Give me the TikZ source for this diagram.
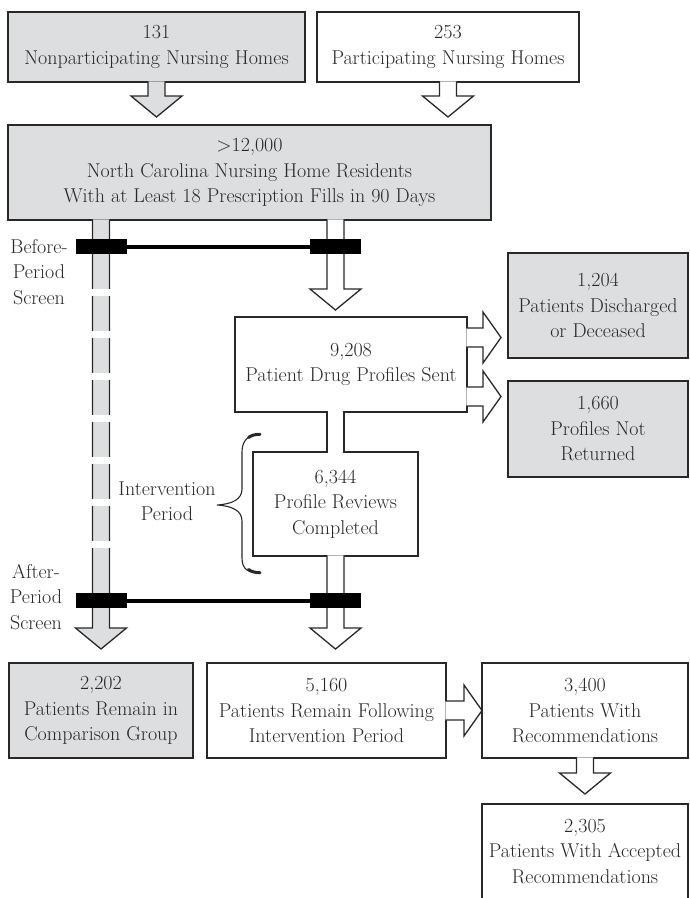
\documentclass[tikz,border=0pt]{standalone}
\usepackage{tikz}
\usetikzlibrary{positioning, calc}
\definecolor{boxgray}{RGB}{221,222,224}
\definecolor{inkgray}{RGB}{40,40,40}

% block arrows: #1 fill, #2 shaft start, #3 tip
\newcommand{\blockdown}[3]{%
  \draw[blk, fill=#1] let \p1=(#2), \p2=(#3) in
    (\x2-8.5pt,\y1+0.7pt) -- (\x2-8.5pt,\y2+21pt) -- (\x2-25.5pt,\y2+21pt) -- (\x2,\y2)
    -- (\x2+25.5pt,\y2+21pt) -- (\x2+8.5pt,\y2+21pt) -- (\x2+8.5pt,\y1+0.7pt);}
\newcommand{\blockright}[3]{%
  \draw[blk, fill=#1] let \p1=(#2), \p2=(#3) in
    (\x1-0.7pt,\y2+9.5pt) -- (\x2-18pt,\y2+9.5pt) -- (\x2-18pt,\y2+25.5pt) -- (\x2,\y2)
    -- (\x2-18pt,\y2-25.5pt) -- (\x2-18pt,\y2-9.5pt) -- (\x1-0.7pt,\y2-9.5pt);}

\begin{document}
\begin{tikzpicture}[
    x=1pt, y=-1pt,
    box/.style={draw=inkgray, line width=1.3pt, align=center, inner sep=2pt, outer sep=0pt,
      text=inkgray, font=\fontsize{20}{25.5}\selectfont},
    graybox/.style={box, fill=boxgray},
    whitebox/.style={box, fill=white},
    blk/.style={draw=inkgray, line width=1.3pt, line join=miter},
    bar/.style={fill=black, minimum width=51, minimum height=15, inner sep=0pt, outer sep=0pt},
    screen/.style={draw=black, line width=4pt},
    lbl/.style={align=center, inner sep=0pt, text=inkgray, font=\fontsize{20}{25.5}\selectfont},
    brace/.style={draw=inkgray, line width=1.1pt},
  ]
  \useasboundingbox (0,0) rectangle (689,898);

  % Boxes
  \node[graybox, minimum width=297, minimum height=70] (nonpart) at (156.5,47) {131\\Nonparticipating Nursing Homes};
  \node[whitebox, minimum width=262, minimum height=70, right=12pt of nonpart] (part) {253\\Participating Nursing Homes};
  \node[graybox, minimum width=483, minimum height=95, below=43pt of nonpart.south west, anchor=north west] (residents)
    {>12,000\\North Carolina Nursing Home Residents\\With at Least 18 Prescription Fills in 90 Days};
  \node[whitebox, minimum width=232, minimum height=95] (sent) at (351,364.5) {9,208\\Patient Drug Profiles Sent};
  \node[graybox, minimum width=180, minimum height=105] (discharged) at (598,305.5) {1,204\\Patients Discharged\\or Deceased};
  \node[graybox, minimum width=180, minimum height=96, below=23pt of discharged] (notret) {1,660\\Profiles Not\\Returned};
  \node[whitebox, minimum width=165, minimum height=104] (reviews) at (335.5,504) {6,344\\Profile Reviews\\Completed};
  \node[graybox, minimum width=184, minimum height=95] (comparison) at (101,710.5) {2,202\\Patients Remain in\\Comparison Group};
  \node[whitebox, minimum width=239, minimum height=95, right=14pt of comparison] (remain) {5,160\\Patients Remain Following\\Intervention Period};
  \node[whitebox, minimum width=206, minimum height=95, right=36pt of remain] (recs) {3,400\\Patients With\\Recommendations};
  \node[whitebox, minimum width=206, minimum height=95, below=46pt of recs] (accepted) {2,305\\Patients With Accepted\\Recommendations};

  % Block arrows
  \blockdown{boxgray}{nonpart.south}{$(nonpart.south |- residents.north)+(0,-8)$}
  \blockdown{white}{part.south}{$(part.south |- residents.north)+(0,-8)$}
  \blockdown{boxgray}{comparison.north |- residents.south}{$(comparison.north)+(0,-14)$}
  \blockdown{white}{reviews.north |- residents.south}{$(reviews.north |- sent.north)+(0,-7)$}
  \blockdown{white}{reviews.south}{$(reviews.south |- remain.north)+(0,-14)$}
  \blockdown{white}{recs.south}{$(recs.south |- accepted.north)+(0,-10)$}
  \blockright{white}{sent.east}{$(sent.east -| discharged.west)+(-7,-27)$}
  \blockright{white}{sent.east}{$(sent.east -| notret.west)+(-7,32)$}
  \blockright{white}{remain.east}{recs.west}

  % Shaft between sent and reviews
  \fill[white] ($(reviews.north |- sent.south)+(-8.5,-0.7)$) rectangle ($(reviews.north)+(8.5,0.7)$);
  \draw[blk] ($(reviews.north |- sent.south)+(-8.5,-0.7)$) -- ($(reviews.north)+(-8.5,0.7)$)
             ($(reviews.north |- sent.south)+(8.5,-0.7)$) -- ($(reviews.north)+(8.5,0.7)$);

  % Breaks in the comparison shaft
  \foreach \gy in {292,334,376,418,460,502,544}
    \fill[white] (89,\gy-3.5) rectangle (114,\gy+3.5);

  % Screens
  \node[bar] (beforeL) at (101.5,246.5) {};
  \node[bar] (beforeR) at (335.5,246.5) {};
  \node[bar] (afterL) at (101.5,600.5) {};
  \node[bar] (afterR) at (335.5,600.5) {};
  \draw[screen] (beforeL) -- (beforeR);
  \draw[screen] (afterL) -- (afterR);

  % Labels
  \node[lbl] (before) at (39,272) {Before-\\Period\\Screen};
  \node[lbl] (after) at (36,597) {After-\\Period\\Screen};
  \node[lbl] (interv) at (167,501) {Intervention\\Period};

  % Brace
  \draw[brace] (261,434) .. controls (249,434) and (242,440) .. (242,452) -- (242,489)
    .. controls (242,499) and (233,504) .. (217,505)
    .. controls (233,506) and (242,511) .. (242,521) -- (242,558)
    .. controls (242,570) and (249,573) .. (261,573);
  \draw[brace, line width=3pt, line cap=round] (260,434.3) .. controls (255,434.3) and (251,435.5) .. (248.5,437.5);
  \draw[brace, line width=3pt, line cap=round] (260,572.7) .. controls (255,572.7) and (251,571.5) .. (248.5,569.5);
\end{tikzpicture}
\end{document}
